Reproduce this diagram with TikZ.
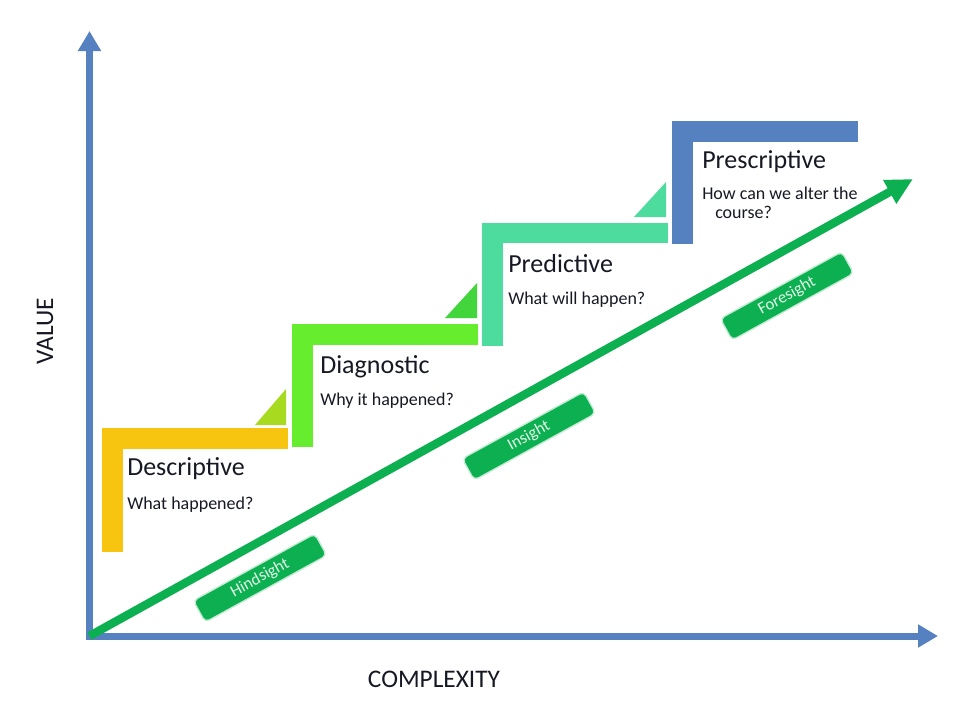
\documentclass[tikz,border=0pt]{standalone}
\usepackage{fontspec}
\setmainfont{Carlito}
\usetikzlibrary{calc,arrows.meta}

\definecolor{axisblue}{RGB}{85,129,192}
\definecolor{descyellow}{RGB}{247,196,16}
\definecolor{diaglime}{RGB}{102,238,46}
\definecolor{predmint}{RGB}{78,220,158}
\definecolor{prescblue}{RGB}{85,129,192}
\definecolor{trendgreen}{RGB}{13,176,80}
\definecolor{inktext}{RGB}{22,24,36}

\tikzset{
  axisline/.style={axisblue, line width=5.25pt, -{Triangle[length=15pt,width=16.5pt]}},
  trendline/.style={trendgreen, line width=6.3pt, -{Triangle[length=20pt,width=19pt]}},
  steptitle/.style={anchor=base west, inner sep=0pt, text=inktext, font=\fontsize{19.5}{23}\selectfont},
  stepsub/.style={anchor=base west, inner sep=0pt, text=inktext, font=\fontsize{13.5}{16}\selectfont},
  axislabel/.style={inner sep=0pt, text=inktext, font=\fontsize{19}{22}\selectfont},
  phase/.style={fill=trendgreen, draw=trendgreen!25, line width=1pt, rounded corners=3.5pt, minimum width=104pt, minimum height=18.5pt, inner sep=0pt, text=white!88!trendgreen, font=\fontsize{12.5}{14}\selectfont, rotate=28.8},
}

\begin{document}
\begin{tikzpicture}[x=0.75pt,y=-0.75pt]
\useasboundingbox (0,0) rectangle (957,701);

% axes
\coordinate (origin) at (89.5,636);
\coordinate (ytip) at (89.5,31);
\coordinate (xtip) at (938,636);
\coordinate (ybottom) at ($ (origin)+(0,4) $);
\coordinate (xstart) at ($ (origin)+(-3.5,0) $);
\draw[axisline] (ybottom) -- (ytip);
\draw[axisline] (xstart) -- (xtip);
\node[axislabel, rotate=90] (valuelabel) at (45,331) {VALUE};
\node[axislabel] (complexlabel) at (434,679) {COMPLEXITY};

% descriptive step
\coordinate (desc) at (102,428);
\fill[descyellow] (desc) rectangle ($ (desc)+(186,21) $);
\fill[descyellow] (desc) rectangle ($ (desc)+(21,124) $);
\fill[descyellow!45!diaglime] ($ (desc)+(153,-3) $) -- ($ (desc)+(184,-39) $) -- ($ (desc)+(184,-3) $) -- cycle;
\node[steptitle] (desctitle) at ($ (desc)+(25,47) $) {Descriptive};
\node[stepsub] (descsub) at ($ (desc)+(25,81) $) {What happened?};

% diagnostic step
\coordinate (diag) at (292,324);
\fill[diaglime] (diag) rectangle ($ (diag)+(186,21) $);
\fill[diaglime] (diag) rectangle ($ (diag)+(21,123) $);
\fill[diaglime!60!trendgreen] ($ (diag)+(153,-6) $) -- ($ (diag)+(185,-41) $) -- ($ (diag)+(185,-6) $) -- cycle;
\node[steptitle] (diagtitle) at ($ (diag)+(28,49) $) {Diagnostic};
\node[stepsub] (diagsub) at ($ (diag)+(28,81) $) {Why it happened?};

% predictive step
\coordinate (pred) at (482,223);
\fill[predmint] (pred) rectangle ($ (pred)+(186,20) $);
\fill[predmint] (pred) rectangle ($ (pred)+(21,123) $);
\fill[predmint] ($ (pred)+(152,-6) $) -- ($ (pred)+(184,-41) $) -- ($ (pred)+(184,-6) $) -- cycle;
\node[steptitle] (predtitle) at ($ (pred)+(26,49) $) {Predictive};
\node[stepsub] (predsub) at ($ (pred)+(26,81) $) {What will happen?};

% prescriptive step
\coordinate (presc) at (672,121);
\fill[prescblue] (presc) rectangle ($ (presc)+(186,21) $);
\fill[prescblue] (presc) rectangle ($ (presc)+(21,123) $);
\node[steptitle] (presctitle) at ($ (presc)+(30,47) $) {Prescriptive};
\node[stepsub] (prescsub) at ($ (presc)+(30,78) $) {How can we alter the};
\node[stepsub] (prescsubb) at ($ (presc)+(43,97) $) {course?};

% trend arrow and phases
\coordinate (trendtip) at (913,179);
\draw[trendline] (origin) -- (trendtip);
\node[phase] (hindsight) at (260,578) {Hindsight};
\node[phase] (insight) at (529,436) {Insight};
\node[phase] (foresight) at (787,296) {Foresight};

\end{tikzpicture}
\end{document}
